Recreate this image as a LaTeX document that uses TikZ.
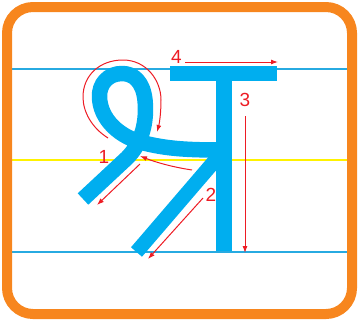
\documentclass[tikz,border=0pt]{standalone}
\usepackage{fontspec}
\setmainfont{Liberation Sans}
\usepackage{xcolor}
\definecolor{frameorange}{HTML}{F7861E}
\definecolor{inkblue}{HTML}{00AEEF}
\definecolor{lineblue}{HTML}{27AAE1}
\definecolor{lineyellow}{HTML}{FFF200}
\definecolor{arrowred}{HTML}{ED1C24}
\usepackage{tikz}
\usetikzlibrary{arrows.meta}

\begin{document}
\begin{tikzpicture}[x=1pt, y=-1pt, font=\fontsize{19}{19}\selectfont,
  letter/.style={draw=inkblue, line width=15.5pt, line cap=butt, line join=round},
  guideline/.style={line width=2pt},
  strokearrow/.style={arrowred, line width=1pt, -{Latex[length=7pt,width=5pt]}},
  num/.style={arrowred, inner sep=0pt}]
  \useasboundingbox (0,0) rectangle (358,324);

  \draw[guideline, lineblue] (12,69) -- (347,69);
  \draw[guideline, lineyellow] (12,160) -- (347,160);
  \draw[guideline, lineblue] (12,252) -- (347,252);

  \fill[inkblue] (170,66) rectangle (277,81);
  \fill[inkblue] (216,66) rectangle (232,251);
  \draw[letter, line width=14.5pt] (136.5,252) -- (224,150);
  \draw[letter] (83,199) -- (127,158)
    .. controls (143,142) and (147,120) .. (145,100)
    .. controls (143,82) and (134,73.5) .. (122,73.5)
    .. controls (108,73.5) and (99,84) .. (99.5,97)
    .. controls (100,118) and (118,138) .. (148,144)
    .. controls (170,149) and (190,150) .. (222,150);

  \node[num] (n1) at (104,157) {1};
  \node[num] (n2) at (211,195) {2};
  \node[num] (n3) at (245,99.5) {3};
  \node[num] (n4) at (176.5,56.5) {4};

  \coordinate (s1a) at (108,138);
  \coordinate (e1a) at (157,132);
  \coordinate (s1b) at (192,170);
  \coordinate (e1b) at (140,156);
  \coordinate (s1c) at (140,164);
  \coordinate (e1c) at (97,205);
  \coordinate (s2) at (203,198);
  \coordinate (e2) at (148,259);
  \coordinate (s3) at (245,116);
  \coordinate (e3) at (245,253);
  \coordinate (s4) at (185,62);
  \coordinate (e4) at (278,62);

  \draw[strokearrow] (s1a) .. controls (92,128) and (83,112) .. (83,97)
    .. controls (83,75) and (100,60) .. (123,60)
    .. controls (146,60) and (161,80) .. (161,100)
    .. controls (161,115) and (159,125) .. (e1a);
  \draw[strokearrow] (s1b) .. controls (172,167) and (155,162) .. (e1b);
  \draw[strokearrow] (s1c) -- (e1c);
  \draw[strokearrow] (s2) -- (e2);
  \draw[strokearrow] (s3) -- (e3);
  \draw[strokearrow] (s4) -- (e4);

  \draw[frameorange, line width=10pt, rounded corners=26pt] (7,7) rectangle (352,314);
\end{tikzpicture}
\end{document}
